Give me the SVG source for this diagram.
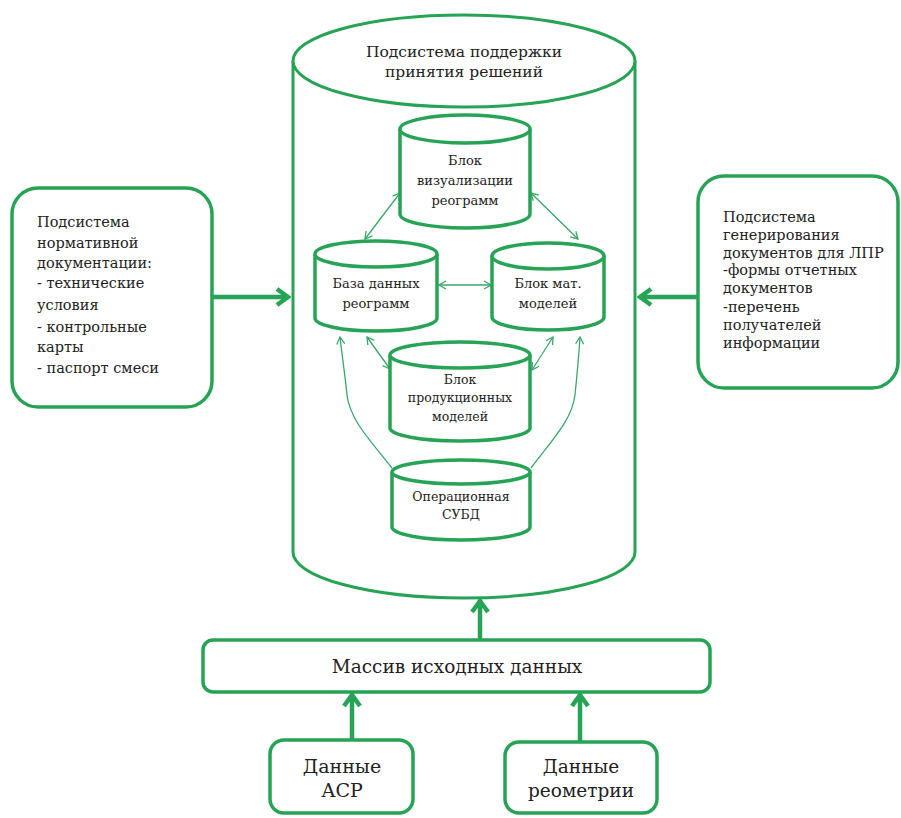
<svg xmlns="http://www.w3.org/2000/svg" width="901" height="818" viewBox="0 0 901 818">
<defs>
<style>
.g{fill:#fff;stroke:#27a356;stroke-width:3.5}
.gm{fill:#fff;stroke:#27a356;stroke-width:3}
.t{font-family:"DejaVu Serif","Liberation Serif",serif;fill:#222}
.c{text-anchor:middle}
.thick{fill:none;stroke:#27a356;stroke-width:4.5}
.thin{fill:none;stroke:#3aa76a;stroke-width:1.3}
</style>
<marker id="big" markerUnits="userSpaceOnUse" viewBox="0 0 20 20" refX="18" refY="10" markerWidth="20" markerHeight="20" orient="auto">
<polyline points="6,2 17,10 6,18" fill="none" stroke="#27a356" stroke-width="4.5"/>
</marker>
<marker id="sm" markerUnits="userSpaceOnUse" viewBox="0 0 10 10" refX="9" refY="5" markerWidth="10" markerHeight="10" orient="auto-start-reverse">
<polyline points="2,1 9,5 2,9" fill="none" stroke="#3aa76a" stroke-width="1.3"/>
</marker>
</defs>
<rect width="901" height="818" fill="#fff"/>

<g id="main-subsystem">
<path class="gm" d="M293,61 V552 A171,46 0 0 0 635,552 V61"/>
<ellipse class="gm" cx="464" cy="61" rx="171" ry="46"/>
<text class="t c" x="464" y="57" font-size="15.5">Подсистема поддержки</text>
<text class="t c" x="464" y="77" font-size="15.5">принятия решений</text>
</g>

<g id="connectors">
<line class="thin" x1="400" y1="193" x2="365" y2="239" marker-start="url(#sm)" marker-end="url(#sm)"/>
<line class="thin" x1="531" y1="193" x2="578" y2="239" marker-start="url(#sm)" marker-end="url(#sm)"/>
<line class="thin" x1="439" y1="285" x2="491" y2="285" marker-start="url(#sm)" marker-end="url(#sm)"/>
<line class="thin" x1="390" y1="369" x2="367" y2="337" marker-start="url(#sm)" marker-end="url(#sm)"/>
<line class="thin" x1="532" y1="370" x2="553" y2="337" marker-start="url(#sm)" marker-end="url(#sm)"/>
<path class="thin" d="M392,468 C370,440 350,420 347,395 C345,375 342,355 340,337" marker-end="url(#sm)"/>
<path class="thin" d="M531,468 C552,440 572,420 575,395 C577,375 579,355 580,337" marker-end="url(#sm)"/>
<line class="thick" x1="212" y1="297" x2="289" y2="297" marker-end="url(#big)"/>
<line class="thick" x1="698" y1="297" x2="639" y2="297" marker-end="url(#big)"/>
<line class="thick" x1="480" y1="640" x2="480" y2="600" marker-end="url(#big)"/>
<line class="thick" x1="352" y1="740" x2="352" y2="694" marker-end="url(#big)"/>
<line class="thick" x1="580" y1="742" x2="580" y2="694" marker-end="url(#big)"/>
</g>

<g id="vis-block">
<path class="g" d="M400,129 V214 A65,14 0 0 0 530,214 V129"/>
<ellipse class="g" cx="465" cy="129" rx="65" ry="14"/>
<text class="t c" x="465" y="165" font-size="13">Блок</text>
<text class="t c" x="465" y="185" font-size="13">визуализации</text>
<text class="t c" x="465" y="205" font-size="13">реограмм</text>
</g>

<g id="db-block">
<path class="g" d="M315,254 V318 A61,13 0 0 0 437,318 V254"/>
<ellipse class="g" cx="376" cy="254" rx="61" ry="13"/>
<text class="t c" x="376" y="288" font-size="13">База данных</text>
<text class="t c" x="376" y="308" font-size="13">реограмм</text>
</g>

<g id="mat-block">
<path class="g" d="M492,256 V317 A56,13 0 0 0 604,317 V256"/>
<ellipse class="g" cx="548" cy="256" rx="56" ry="13"/>
<text class="t c" x="548" y="288" font-size="13">Блок мат.</text>
<text class="t c" x="548" y="308" font-size="13">моделей</text>
</g>

<g id="prod-block">
<path class="g" d="M390,355 V428 A70,13 0 0 0 530,428 V355"/>
<ellipse class="g" cx="460" cy="355" rx="70" ry="13"/>
<text class="t c" x="460" y="384" font-size="12.5">Блок</text>
<text class="t c" x="460" y="402" font-size="12.5">продукционных</text>
<text class="t c" x="460" y="421" font-size="12.5">моделей</text>
</g>

<g id="op-block">
<path class="g" d="M392,472 V527 A69,13 0 0 0 530,527 V472"/>
<ellipse class="g" cx="461" cy="472" rx="69" ry="12"/>
<text class="t c" x="461" y="501" font-size="12.5">Операционная</text>
<text class="t c" x="461" y="519" font-size="12.5">СУБД</text>
</g>

<g id="norm-doc">
<rect class="g" x="12" y="188" width="200" height="219" rx="26"/>
<text class="t" x="37" y="227" font-size="14.5">Подсистема</text>
<text class="t" x="37" y="248" font-size="14.5">нормативной</text>
<text class="t" x="37" y="268" font-size="14.5">документации:</text>
<text class="t" x="37" y="288" font-size="14.5">- технические</text>
<text class="t" x="37" y="310" font-size="14.5">условия</text>
<text class="t" x="37" y="332" font-size="14.5">- контрольные</text>
<text class="t" x="37" y="352" font-size="14.5">карты</text>
<text class="t" x="37" y="373" font-size="14.5">- паспорт смеси</text>
</g>

<g id="doc-gen">
<rect class="g" x="698" y="176" width="200" height="212" rx="26"/>
<text class="t" x="723" y="222" font-size="14.5">Подсистема</text>
<text class="t" x="723" y="240" font-size="14.5">генерирования</text>
<text class="t" x="723" y="258" font-size="14.5">документов для ЛПР</text>
<text class="t" x="723" y="275" font-size="14.5">-формы отчетных</text>
<text class="t" x="723" y="293" font-size="14.5">документов</text>
<text class="t" x="723" y="312" font-size="14.5">-перечень</text>
<text class="t" x="723" y="330" font-size="14.5">получателей</text>
<text class="t" x="723" y="348" font-size="14.5">информации</text>
</g>

<g id="source-data">
<rect class="g" x="203" y="640" width="507" height="52" rx="10"/>
<text class="t c" x="457" y="673" font-size="18.5">Массив исходных данных</text>
</g>

<g id="asr-data">
<rect class="g" x="270" y="740" width="143" height="73" rx="14"/>
<text class="t c" x="342" y="773" font-size="19">Данные</text>
<text class="t c" x="342" y="797" font-size="19">АСР</text>
</g>

<g id="rheo-data">
<rect class="g" x="505" y="742" width="152" height="71" rx="14"/>
<text class="t c" x="581" y="773" font-size="18.5">Данные</text>
<text class="t c" x="581" y="797" font-size="18.5">реометрии</text>
</g>
</svg>
